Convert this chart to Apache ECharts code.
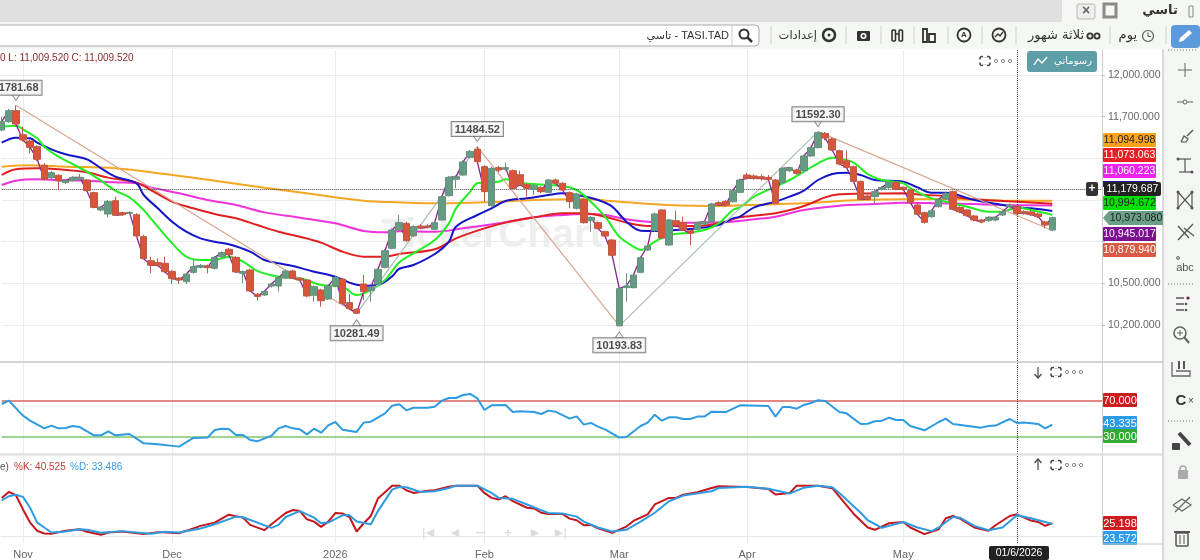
<!DOCTYPE html>
<html><head><meta charset="utf-8">
<style>html,body{margin:0;padding:0;background:#fff}#c{width:1200px;height:560px}</style>
<script src="https://cdn.jsdelivr.net/npm/echarts@6/dist/echarts.min.js"></script>
</head><body><div id="c"></div>
<script>
// [open, close, low, high]
const candleValues = [
[11604,11664,11595,11700],[11664,11743,11655,11755],[11743,11647,11628,11781.68],[11570,11532,11520,11628],[11525,11479,11436,11535],
[11484,11393,11380,11495],[11350,11249,11240,11365],[11261,11297,11250,11310],[11278,11237,11172,11285],[11225,11239,11215,11245],
[11239,11263,11232,11270],[11249,11263,11240,11287],[11244,11167,11160,11250],[11153,11047,11040,11160],[11028,11047,11020,11055],
[10999,11090,10975,11100],[11095,10990,10985,11124],[11009,10994,10985,11015],[11004,11011,10998,11020],[10994,10841,10835,11005],
[10836,10678,10670,10850],[10663,10630,10572,10692],[10649,10630,10620,10680],[10644,10584,10575,10692],[10586,10534,10495,10595],
[10538,10524,10495,10545],[10512,10567,10495,10575],[10579,10620,10570,10675],[10615,10627,10608,10640],[10627,10613,10572,10635],
[10608,10687,10600,10695],[10692,10721,10685,10730],[10745,10706,10700,10755],[10687,10582,10575,10695],[10572,10584,10500,10592],
[10596,10445,10440,10605],[10421,10406,10375,10430],[10416,10442,10408,10450],[10481,10495,10470,10505],[10481,10541,10440,10550],
[10538,10589,10530,10600],[10589,10536,10530,10598],[10536,10524,10515,10545],[10524,10409,10400,10532],[10414,10476,10368,10485],
[10452,10375,10332,10460],[10387,10481,10380,10490],[10481,10543,10475,10555],[10531,10356,10350,10540],[10361,10318,10310,10423],
[10313,10285,10281.49,10322],[10495,10442,10380,10560],[10447,10471,10368,10480],[10495,10601,10488,10610],[10615,10735,10608,10745],
[10752,10884,10745,10895],[10884,10937,10878,10992],[10932,10807,10800,10945],[10841,10908,10835,10918],[10913,10898,10890,10925],
[10913,10903,10895,10925],[10889,10937,10882,10945],[10956,11124,10950,11132],[11131,11263,11125,11272],[11249,11268,11184,11278],
[11280,11374,11272,11385],[11407,11450,11400,11460],[11465,11376,11368,11484.52],[11340,11160,11088,11350],[11059,11328,11052,11340],
[11333,11316,11300,11345],[11321,11333,11310,11369],[11311,11184,11178,11320],[11282,11208,11200,11311],[11210,11184,11124,11220],
[11177,11203,11135,11212],[11191,11160,11150,11200],[11155,11244,11148,11252],[11244,11220,11212,11255],[11220,11172,11165,11228],
[11153,11088,11040,11162],[11040,11143,11032,11152],[11105,10937,10930,11115],[10951,10975,10872,10985],[10937,10896,10888,10945],
[10872,10841,10832,10880],[10812,10702,10695,10820],[10193.83,10462,10193.83,10470],[10469,10481,10368,10572],[10469,10560,10462,10570],
[10579,10685,10572,10695],[10740,10769,10732,10778],[10879,11000,10870,11010],[11028,10826,10820,11035],[10776,10956,10768,10965],
[10951,10920,10912,11023],[10937,10884,10876,10980],[10879,10860,10776,10888],[10889,10937,10880,10945],[10927,10944,10920,10952],
[10944,11071,10938,11080],[11081,11064,11055,11092],[11090,11064,11055,11100],[11088,11167,11080,11175],[11155,11244,11148,11255],
[11280,11256,11248,11295],[11273,11256,11245,11285],[11268,11254,11240,11285],[11263,11249,11238,11280],[11244,11076,11070,11252],
[11225,11328,11218,11336],[11311,11333,11302,11340],[11316,11292,11282,11325],[11311,11417,11305,11425],[11417,11477,11410,11485],
[11477,11585,11470,11592.30],[11580,11546,11530,11590],[11539,11460,11452,11550],[11455,11359,11350,11462],[11383,11335,11328,11455],
[11340,11234,11228,11348],[11234,11105,11098,11240],[11129,11105,11095,11138],[11124,11160,11076,11170],[11177,11191,11168,11200],
[11189,11227,11180,11235],[11227,11177,11170,11236],[11191,11177,11168,11200],[11172,11081,11074,11180],[11064,10997,10990,11072],
[11009,10939,10930,11016],[10980,11023,10972,11032],[11052,11105,11045,11112],[11107,11148,11100,11158],[11160,11033,11026,11168],
[11047,11014,11005,11055],[11028,10987,10980,11036],[10985,10956,10948,10992],[10956,10942,10932,10964],[10951,10975,10942,10983],
[10956,10975,10945,10985],[10992,11016,10984,11025],[11052,11064,11045,11075],[11052,11004,10996,11062],[11016,11004,10995,11026],
[11014,10994,10985,11025],[11000,10980,10970,11008],[10942,10920,10895,10950],[10884,10973.08,10876,10980]
];
const maGreen = [[0,11628],[2,11635],[3,11609],[5,11544],[6,11484],[8,11412],[10,11359],[12,11304],[14,11239],[16,11167],[18,11119],[20,11028],[21,10968],[24,10790],[26,10692],[28,10668],[30,10668],[32,10692],[34,10656],[36,10590],[39,10548],[42,10536],[45,10488],[48,10476],[50,10416],[52,10452],[54,10524],[56,10650],[58,10716],[61,10812],[63,10932],[64,11040],[66,11160],[67,11220],[70,11232],[71,11249],[73,11225],[77,11208],[79,11201],[81,11172],[83,11088],[85,10980],[87,10836],[89,10764],[90,10740],[92,10800],[94,10848],[96,10860],[99,10884],[101,10932],[103,11028],[104,11047],[106,11124],[109,11196],[111,11244],[113,11304],[115,11364],[117,11405],[118,11400],[120,11369],[122,11287],[124,11244],[127,11220],[128,11184],[131,11112],[133,11088],[136,11052],[139,11016],[141,11016],[143,11047],[145,11028],[148,10994]];
const maBlue = [[0,11513],[2,11549],[4,11544],[5,11513],[7,11465],[9,11429],[12,11393],[14,11328],[16,11268],[19,11220],[20,11136],[22,11040],[24,10944],[26,10872],[28,10824],[30,10800],[32,10781],[35,10728],[37,10668],[39,10644],[41,10625],[44,10584],[47,10548],[49,10505],[51,10483],[53,10488],[55,10550],[56,10605],[58,10632],[61,10711],[63,10800],[64,10908],[67,10992],[69,11040],[71,11093],[74,11112],[77,11136],[79,11148],[81,11136],[84,11100],[86,11052],[88,10944],[90,10879],[92,10877],[95,10884],[98,10896],[101,10920],[103,10968],[104,10980],[106,11047],[109,11088],[111,11124],[113,11167],[115,11244],[117,11287],[119,11297],[121,11280],[123,11244],[127,11232],[129,11191],[131,11153],[133,11153],[137,11100],[141,11064],[143,11047],[145,11040],[148,11021]];
const maRed = [[0,11280],[2,11321],[5,11328],[8,11321],[12,11299],[15,11261],[19,11225],[21,11172],[24,11088],[27,11040],[30,10999],[33,10968],[36,10920],[39,10872],[42,10836],[45,10793],[48,10728],[51,10692],[54,10692],[56,10711],[61,10745],[64,10824],[68,10896],[71,10937],[75,10975],[79,11004],[82,11004],[85,10980],[88,10937],[91,10913],[95,10913],[98,10913],[101,10932],[104,10975],[107,10992],[109,11004],[112,11040],[114,11076],[116,11119],[118,11141],[121,11146],[127,11148],[130,11136],[133,11129],[137,11105],[141,11093],[148,11073]];
const maMagenta = [[0,11208],[2,11239],[5,11249],[8,11244],[12,11239],[16,11227],[19,11220],[21,11191],[25,11148],[29,11100],[33,11064],[37,11011],[42,10973],[47,10932],[51,10877],[54,10867],[56,10875],[61,10872],[65,10896],[70,10932],[75,10975],[79,10992],[82,10999],[85,10992],[88,10961],[91,10944],[95,10937],[98,10937],[103,10944],[106,10961],[109,10980],[113,11028],[118,11059],[123,11071],[127,11081],[132,11076],[137,11071],[141,11064],[148,11060]];
const maOrange = [[0,11340],[4,11350],[9,11340],[16,11328],[23,11287],[30,11239],[37,11189],[44,11141],[51,11095],[56,11083],[62,11076],[68,11083],[75,11100],[82,11105],[87,11088],[94,11064],[101,11057],[105,11064],[113,11076],[121,11100],[132,11107],[141,11096],[148,11095]];
const pivotIndex = [2,50,67,87,115,148];
const pivotValue = [11781.68,10281.49,11484.52,10193.83,11592.30,10879.94];
const priceTicks = [10200,10500,10800,11100,11400,11700,12000];
const priceLabels = [10200,10500,11700,12000];
const crossIndex = 143, crossPrice = 11179.687;
const monthIndex = [3,24,47,68,87,105,127];
const monthNames = ['Nov','Dec','2026','Feb','Mar','Apr','May'];
const rsiLine = [[0,66.6],[1,70.4],[3,53.4],[4,47.7],[6,39],[7,42.1],[8,39],[9,39.4],[10,41.7],[11,40.5],[13,31.1],[14,31.1],[15,35.6],[16,31.1],[18,32.6],[20,22],[22,20.9],[25,18.3],[27,28.1],[29,28.5],[30,37.1],[31,38.6],[32,38.3],[33,31.5],[34,31.5],[35,25.8],[36,24.3],[38,30.7],[39,39],[40,41.7],[41,39],[42,37.9],[43,32.2],[44,38.6],[45,34.1],[46,42.4],[47,46.2],[48,37.5],[50,34.9],[51,45.5],[52,46.6],[54,56],[55,64.7],[56,66.2],[57,59.4],[58,62.4],[60,62.4],[61,63.6],[62,70.4],[63,73.4],[64,73.4],[65,76.8],[66,78],[67,73],[68,59.8],[69,65.1],[71,65.5],[72,57.5],[73,58.3],[75,57.5],[76,55.3],[77,59.1],[78,57.9],[80,50],[81,52.6],[82,43.2],[83,45.1],[84,40.9],[85,37.9],[87,28.5],[88,29.2],[90,41.7],[91,45.5],[92,54.5],[93,47.7],[94,51.5],[95,51.5],[96,49.6],[97,49.6],[98,52.3],[99,52.3],[100,57.9],[102,57.5],[104,65.1],[108,64.3],[109,52.3],[110,63.2],[111,63.2],[112,61.3],[113,65.5],[114,67.7],[115,70.8],[116,70],[118,57.5],[119,56],[121,44],[122,44.3],[123,47],[124,47.7],[125,51.1],[126,48.5],[127,48.5],[128,41.7],[130,36.8],[132,46.2],[133,50],[134,44],[138,39.8],[139,41.7],[140,42.1],[142,49.6],[143,45.1],[144,45.5],[146,44],[147,39],[148,43.335]];
const stochK = [[0,75.6],[1,87.5],[2,80.9],[3,52.6],[4,26.3],[5,9.9],[6,4.6],[7,4],[9,9.9],[11,13],[12,7.9],[14,2],[15,6.6],[17,8.6],[20,3.3],[22,7.3],[25,5.3],[26,9.9],[28,19.8],[30,26.3],[32,42.1],[34,36.2],[35,21.7],[37,11.2],[38,23],[40,45.4],[41,51.3],[42,49.3],[43,32.9],[44,28.3],[45,17.8],[46,28.3],[47,45.4],[48,44.7],[49,37.5],[50,8.6],[51,25],[52,39.5],[53,74.3],[55,100],[56,100],[57,90.8],[58,85.5],[60,90],[61,90.8],[63,98],[64,100],[67,100],[68,85.5],[69,75.6],[70,72.4],[71,78.9],[72,69],[74,55.9],[75,54.6],[76,46],[77,43.4],[79,43.4],[80,34.2],[81,30.9],[82,21.1],[83,21.7],[84,15],[86,6],[88,18.4],[89,29.6],[91,42.8],[92,62.5],[94,75.6],[95,75.6],[96,82],[98,86.8],[100,95.4],[101,98.7],[105,97.3],[108,93.4],[109,82.2],[111,85.5],[112,100],[114,100],[115,100],[117,95],[120,44],[122,16.5],[123,11.9],[125,25],[127,27.6],[128,16.5],[130,3.3],[132,13],[133,35],[134,39.5],[135,34.2],[137,16.5],[139,9.9],[140,21],[142,39.5],[143,42.8],[145,30.3],[146,27.6],[147,19.8],[148,25.198]];
const stochD = [[0,70.4],[1,78.9],[2,82],[3,77.6],[4,56],[5,26.3],[6,16.5],[7,6.6],[9,8.6],[11,13],[12,11.9],[14,6],[17,9.3],[21,4],[23,7.9],[25,6.6],[28,14.5],[30,23],[33,38.2],[34,36.9],[38,15.8],[39,21.7],[40,37.5],[42,49.3],[44,36.2],[45,25],[46,26.3],[48,40.8],[49,40.8],[50,28.3],[52,23],[53,49.3],[55,92],[56,97.3],[57,96.7],[59,87.5],[61,88.8],[63,95.4],[64,100],[67,100],[69,85.5],[70,75.6],[72,73.7],[74,62.5],[76,51.3],[77,45.4],[79,44.7],[81,38.2],[82,28.3],[84,16.5],[86,8.6],[88,11.9],[90,28.3],[92,46],[94,69],[96,80.2],[100,88.8],[101,95.4],[105,98],[108,94],[111,84.2],[113,96],[115,100],[117,97],[118,85.5],[121,46],[122,31],[124,15.8],[125,19.8],[127,27.6],[129,16.5],[131,9.3],[132,16.5],[134,37.5],[135,36.2],[137,19.8],[139,11.2],[141,16.5],[143,40.8],[145,35],[148,23.572]];
// side tags: text, centre y, background, text colour
const priceTags = [['11,094.998',140,'#ffa31a','#222'],['11,073.063',155,'#ee1c25','#fff'],['11,060.223',171,'#ef22ef','#fff'],['10,994.672',203,'#00e000','#222'],['10,945.017',234,'#7b1090','#fff'],['10,879.940',250,'#d85c45','#fff']];
const panelTags = [['70.000',400,'#cc1e1e','#fff'],['43.335',423,'#2c9be8','#fff'],['30.000',436,'#35a835','#fff'],['25.198',523,'#cc1e1e','#fff'],['23.572',538,'#2c9be8','#fff']];

const FONT = '"Liberation Sans","DejaVu Sans",sans-serif';
const categories = Array.from({length:156},(_,i)=>String(i));
const closeLine = candleValues.map((c,i)=>[i,c[1]]);
const isMonth = i => monthIndex.includes(i);

function xAxisFor(gridIndex, showLabel){
  return {type:'category',gridIndex,data:categories,boundaryGap:false,
    axisLine:{show:showLabel,lineStyle:{color:'#c8c8c8'}},axisTick:{show:false},
    axisLabel:{show:showLabel,interval:(i)=>isMonth(i),formatter:(v)=>monthNames[monthIndex.indexOf(+v)]||'',color:'#666',fontSize:11,fontFamily:FONT,margin:6},
    splitLine:{show:true,interval:(i)=>isMonth(i),lineStyle:{color:'#ececec',width:1}}};
}
function ma(name,data,color,w){
  return {name,type:'line',data,smooth:0.35,showSymbol:false,symbol:'none',silent:true,z:3,lineStyle:{color,width:w||2},xAxisIndex:0,yAxisIndex:0};
}
const dotted = {type:'dotted',color:'#444',width:1};

const series = [
  ma('orange',maOrange,'#f5a623'),
  ma('magenta',maMagenta,'#ee33dd'),
  ma('red',maRed,'#e02020'),
  ma('blue',maBlue,'#1414c8'),
  ma('green',maGreen,'#22ee22'),
];
for(let i=0;i<pivotIndex.length-1;i++){
  series.push({type:'line',data:[[pivotIndex[i],pivotValue[i]],[pivotIndex[i+1],pivotValue[i+1]]],showSymbol:false,symbol:'none',silent:true,z:4,
    lineStyle:{color:i%2?'#a9bdb0':'#d9a58f',width:1.2}});
}
series.push({type:'line',data:closeLine,showSymbol:false,symbol:'none',silent:true,z:5,lineStyle:{color:'#8a1f94',width:1.3}});
series.push({type:'candlestick',data:candleValues,barWidth:7,clip:false,silent:true,z:6,
  itemStyle:{color:'#649c83',color0:'#d9553a',borderColor:'#6b8f7d',borderColor0:'#bb5a45',borderWidth:1},
  markLine:{silent:true,symbol:'none',label:{show:false},animation:false,lineStyle:dotted,data:[{xAxis:crossIndex},{yAxis:crossPrice}]}});
const pivots = pivotIndex.slice(0,5).map((x,i)=>({x,v:pivotValue[i],up:i%2===0}));
series.push({type:'scatter',z:8,silent:true,symbol:'triangle',symbolSize:[8,6],
  data:pivots.map(p=>({value:[p.x,p.v],symbolRotate:p.up?180:0,symbolOffset:[0,p.up?-8:9]})),
  itemStyle:{color:'#f5f5f5',borderColor:'#777',borderWidth:1}});
series.push({type:'scatter',z:9,silent:true,symbolSize:1,
  data:pivots.map(p=>({value:[p.x,p.v],label:{show:true,position:p.up?'top':'bottom',distance:p.up?10:12,formatter:p.v.toFixed(2)}})),
  itemStyle:{color:'transparent'},
  label:{show:true,color:'#222',fontFamily:FONT,fontSize:11,fontWeight:'bold',backgroundColor:'#f5f5f5',borderColor:'#666',borderWidth:1,padding:[2,3,1,3]}});
series.push({type:'line',xAxisIndex:1,yAxisIndex:1,data:rsiLine,showSymbol:false,symbol:'none',silent:true,z:5,lineStyle:{color:'#2e9be0',width:2},
  markLine:{silent:true,symbol:'none',label:{show:false},animation:false,data:[
    {yAxis:70,lineStyle:{color:'#d9605c',width:1.5,type:'solid'}},{yAxis:30,lineStyle:{color:'#7fc46c',width:1.5,type:'solid'}},{xAxis:crossIndex,lineStyle:dotted}]}});
series.push({type:'line',xAxisIndex:2,yAxisIndex:2,data:stochK,showSymbol:false,symbol:'none',silent:true,z:4,lineStyle:{color:'#c4161c',width:2},
  markLine:{silent:true,symbol:'none',label:{show:false},animation:false,data:[
    {yAxis:0,lineStyle:{color:'#e6e6e6',width:1,type:'solid'}},{xAxis:crossIndex,lineStyle:dotted}]}});
series.push({type:'line',xAxisIndex:2,yAxisIndex:2,data:stochD,showSymbol:false,symbol:'none',silent:true,z:5,lineStyle:{color:'#2e9be0',width:2}});

// ---- interface chrome ----
const g=[], Z=100;
const R=(x,y,w,h,fill,stroke,r,lw,z)=>g.push({type:'rect',silent:true,z:z||Z,shape:{x,y,width:w,height:h,r:r||0},style:{fill:fill||'none',stroke:stroke||'none',lineWidth:lw||1}});
const T=(text,x,y,o)=>{o=o||{};g.push({type:'text',silent:true,z:o.z||Z+2,x,y,style:{text,fill:o.c||'#444',font:(o.b?'bold ':'')+(o.s||11)+'px '+(o.f||FONT),textAlign:o.a||'left',textVerticalAlign:'middle'}})};
const L=(x1,y1,x2,y2,c,w,dash)=>g.push({type:'line',silent:true,z:Z+1,shape:{x1,y1,x2,y2},style:{stroke:c||'#555',lineWidth:w||1,lineDash:dash||null}});
const C=(cx,cy,r,fill,stroke,lw)=>g.push({type:'circle',silent:true,z:Z+1,shape:{cx,cy,r},style:{fill:fill||'none',stroke:stroke||'none',lineWidth:lw||1}});
const P=(points,c,w,fill)=>g.push({type:fill?'polygon':'polyline',silent:true,z:Z+1,shape:{points},style:{stroke:fill?'none':(c||'#555'),fill:fill||'none',lineWidth:w||1}});

g.push({type:'text',silent:true,z:0,x:492,y:236,style:{text:'TickerChart',fill:'#eeeeee',font:'bold 40px '+FONT,textAlign:'center',textVerticalAlign:'middle'}});
// top bands
R(0,0,1200,49,'#f4f7f2');
R(0,0,1062,22,'#e0e0e0');
R(1077,4,18,15,'#eeeeee','#bbb',2);
T('×',1086,11,{a:'center',s:14,b:1,c:'#666'});
R(1104,4,12,13,'none','#8a8a8a',0,3);
T('تاسي',1160,11,{a:'center',s:13,b:1,c:'#333',f:'"DejaVu Sans",sans-serif'});
R(1189,6,4,11,'none','#888');
// search
R(-4,25,763,21,'#fff','#aaa',4);
L(732,25,732,46,'#ccc');
C(744,34,4.5,'none','#333',2); L(747.5,37.5,752,42,'#333',2.5);
T('تاسي - TASI.TAD',729,36,{a:'right',s:11,c:'#333'});
[771,846,881,914,948,982,1016,1110,1166].forEach(x=>L(x,26,x,44,'#d0d0d0'));
T('إعدادات',817,36,{a:'right',s:11.5,c:'#333',f:'"DejaVu Sans",sans-serif'});
C(829,35,6,'none','#333',2.5); C(829,35,1.5,'#333');
R(857,31,13,10,'#333',null,1); C(863.5,36,3,'#fff'); C(863.5,36,1.4,'#333');
R(892,30,3.5,11,'none','#333',1,1.6); R(899,30,3.5,11,'none','#333',1,1.6); L(895,34,899,34,'#333',1.5);
R(923,29,4,13,'none','#333',0,1.8); R(929,34,6,8,'none','#333',0,1.8);
C(964,35,6.5,'none','#333',1.8); T('A',964,35,{a:'center',s:8,b:1,c:'#333'});
C(999,35,6.5,'none','#333',1.8); P([[995,37],[998,34],[1000,36],[1003,32]],'#333',1.3);
T('ثلاثة شهور',1084,36,{a:'right',s:13,c:'#333',f:'"DejaVu Sans",sans-serif'});
C(1090,36,2.6,'none','#333',1.8); C(1097,36,2.6,'none','#333',1.8);
T('يوم',1137,36,{a:'right',s:13,c:'#333',f:'"DejaVu Sans",sans-serif'});
C(1148,36,5.5,'none','#555',1.2); P([[1148,32.5],[1148,36.5],[1151,36.5]],'#555',1);
R(1171,25,29,23,'#5b9bdc',null,4);
P([[1179,42],[1180,38],[1189,30],[1192,33],[1183,41]],null,1,'#fff');
// sidebar
R(1163,49,37,511,'#f3f6f2');
L(1163,49,1163,560,'#b9b9b9',1);
L(1168,50,1196,50,'#777',1,[1,2]);
L(1185,63,1185,77,'#666',1); L(1178,70,1192,70,'#666',1);
L(1177,102,1193,102,'#666',1); C(1185,102,2,'#f3f6f2','#666');
P([[1181,142],[1184,136],[1188,139],[1186,142],[1181,142]],'#555',1.2); L(1187,136,1193,130,'#555',1.5);
L(1185,159,1185,172,'#555',1.2); L(1179,159,1191,159,'#555',1.2); L(1179,172,1191,172,'#555',1.2); C(1178,159,1.5,'#555'); C(1192,172,1.5,'#555');
P([[1178,192],[1178,208],[1192,192],[1192,208],[1178,192]],'#555',1.2); C(1178,192,1.5,'#555'); C(1192,192,1.5,'#555'); C(1178,208,1.5,'#555'); C(1192,208,1.5,'#555');
L(1178,240,1193,224,'#555',1.3); L(1184,228,1194,236,'#555',1.3); L(1178,226,1189,238,'#555',1.3);
C(1178,258,1.4,'none','#555'); T('abc',1185,268,{a:'center',s:11,c:'#555'});
L(1168,284,1194,284,'#777',1,[1,2]);
L(1176,298,1184,298,'#555',1.5); L(1176,304,1184,304,'#555',1.5); L(1176,310,1184,310,'#555',1.5); C(1188,298,1.6,'#602040'); C(1186,304,1.3,'#555'); C(1186,310,1.3,'#555');
C(1180,333,6,'none','#666',1.6); L(1184.5,337.5,1189,343,'#666',2.2); L(1177,333,1183,333,'#666',1); L(1180,330,1180,336,'#666',1);
P([[1172,362],[1172,376],[1190,376],[1190,371],[1176,371]],'#666',1.3); L(1179,361,1179,369,'#444',1.8); L(1184,361,1184,369,'#444',1.8);
T('C',1181,401,{a:'center',s:15,b:1,c:'#333'}); T('×',1191,401,{a:'center',s:10,c:'#444'});
L(1168,421,1194,421,'#777',1,[1,2]);
R(1172,443,8,7,'#444',null,1); L(1179,433,1190,445,'#444',4);
R(1178,470,10,9,'#aaa',null,1); C(1183,469,3,'none','#aaa',1.6);
P([[1173,505],[1182,499],[1191,505],[1182,511],[1173,505]],'#666',1.2); L(1175,512,1190,497,'#666',1.2);
R(1176,533,12,13,'none','#555',1,1.5); L(1174,532,1190,532,'#555',2); L(1180,535,1180,544,'#555',1); L(1184,535,1184,544,'#555',1);
// panel separators beyond the axis
L(0,362,1163,362,'#a8a8a8',1);
L(0,454.5,1163,454.5,'#dcdcdc',2);
L(1102,544,1163,544,'#c8c8c8',1);
// legends
T('0 L: 11,009.520 C: 11,009.520',0,58,{s:10,c:'#8b2a2a'});
T('e)',0,467,{s:10,c:'#555'});
T('%K: 40.525',14,467,{s:10,c:'#c23a3a'});
T('%D: 33.486',70,467,{s:10,c:'#3a9be0'});
// pane buttons
[[985,61],[1056,372],[1056,465]].forEach(([x,y])=>{R(x-5,y-4.5,10,9,'none','#444',2,1.5);L(x-2,y-5,x+2,y-5,'#fff',2);L(x-2,y+5,x+2,y+5,'#fff',2);L(x-6,y,x+6,y,'#fff',3);
  [13,20,27].forEach(d=>C(x+d-2,y,1.6,'none','#666',0.8));});
L(1038,367,1038,377,'#444',1.2); P([[1034.5,374],[1038,378],[1041.5,374]],'#444',1.2);
L(1038,460,1038,470,'#444',1.2); P([[1034.5,463],[1038,459],[1041.5,463]],'#444',1.2);
// my-drawings button
R(1027,51,70,21,'#5e9ea6',null,3);
P([[1034,65],[1038,59],[1042,63],[1047,57]],'#fff',1.3);
T('رسوماتي',1092,61,{a:'right',s:10,c:'#fff',f:'"DejaVu Sans",sans-serif'});
// scroll controls
[['|◀',428],['◀',455],['—',481],['+',508],['▶',535],['▶|',561]].forEach(([t,x])=>T(t,x,533,{a:'center',s:11,b:1,c:'#dcdcdc',f:'"DejaVu Sans",sans-serif'}));
// tags
priceTags.concat(panelTags).forEach(([t,y,bg,fg])=>{const w=y>350?34:53;R(1103,y-7,w,14,bg,null,1);T(t,1103+w/2,y+0.5,{a:'center',s:y>350?11:10.5,c:fg});});
R(1103,181,53,6,'#1a1aa0');
R(1104,182,57,14,'#222',null,2); T(crossPrice.toLocaleString('en-US',{minimumFractionDigits:3}),1132.5,189.5,{a:'center',s:10.5,c:'#fff'});
R(1086,182,12,14,'#333',null,2); T('+',1092,189,{a:'center',s:12,b:1,c:'#fff'});
P([[1103,218],[1109,211],[1163,211],[1163,225],[1109,225]],null,1,'#6aa088');
T('10,973.080',1136,218.5,{a:'center',s:10.5,c:'#222'});
R(989,546,60,14,'#222',null,2); T('01/6/2026',1019,553.5,{a:'center',s:10.5,c:'#fff'});

const chart = echarts.init(document.getElementById('c'),null,{renderer:'canvas'});
chart.setOption({
  animation:false,backgroundColor:'#fff',tooltip:{show:false},legend:{show:false},
  grid:[{left:1.7,right:98,top:50,height:311},{left:1.7,right:98,top:363,height:91},{left:1.7,right:98,top:456,height:88}],
  xAxis:[xAxisFor(0,false),xAxisFor(1,false),xAxisFor(2,true)],
  yAxis:[
    {type:'value',gridIndex:0,position:'right',min:9940.8,max:12180,scale:true,
      axisLine:{show:true,lineStyle:{color:'#d0d0d0'}},
      axisTick:{show:true,length:3,customValues:priceTicks,lineStyle:{color:'#bbb'}},
      axisLabel:{customValues:priceLabels,color:'#666',fontSize:10.5,fontFamily:FONT,margin:6,formatter:v=>v.toLocaleString('en-US',{minimumFractionDigits:3})},
      splitLine:{show:true,lineStyle:{color:'#ececec',width:1}}},
    {type:'value',gridIndex:1,position:'right',min:9.94,max:113.06,axisLine:{show:true,lineStyle:{color:'#d0d0d0'}},axisTick:{show:false},axisLabel:{show:false},splitLine:{show:false}},
    {type:'value',gridIndex:2,position:'right',min:-14.4,max:159.2,axisLine:{show:true,lineStyle:{color:'#d0d0d0'}},axisTick:{show:false},axisLabel:{show:false},splitLine:{show:false}}
  ],
  series,graphic:{elements:g}
});
</script></body></html>
